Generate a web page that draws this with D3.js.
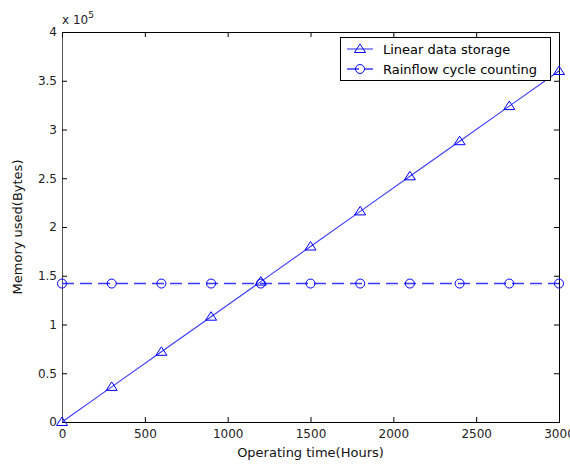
<!DOCTYPE html>
<html><head><meta charset="utf-8">
<script src="https://cdn.jsdelivr.net/npm/d3@7"></script>
<style>body{margin:0;background:#fff}svg{display:block}text{font-family:"DejaVu Sans",sans-serif}</style>
</head><body>
<script>
const hours = [0,300,600,900,1200,1500,1800,2100,2400,2700,3000];
const linearStorage = [0,0.36,0.72,1.08,1.44,1.80,2.16,2.52,2.88,3.24,3.60];
const rainflow = [1.42,1.42,1.42,1.42,1.42,1.42,1.42,1.42,1.42,1.42,1.42];
const xTicks = [0,500,1000,1500,2000,2500,3000];
const yTicks = [0,0.5,1,1.5,2,2.5,3,3.5,4];
const seriesNames = ["Linear data storage","Rainflow cycle counting"];

const W=570,H=465;
const svg=d3.select("body").append("svg").attr("width",W).attr("height",H);
const L=62,R=559,T=32,B=422;
const x=d3.scaleLinear().domain([0,3000]).range([L,R]);
const y=d3.scaleLinear().domain([0,4]).range([B,T]);
const blue="#3a3aff", mblue="#0000ff";
const FONT="DejaVu Sans, sans-serif";

const gx=svg.append("g").attr("transform",`translate(0,${B})`)
 .call(d3.axisBottom(x).tickValues(xTicks).tickSize(-5).tickPadding(7).tickFormat(d3.format("d")));
const gy=svg.append("g").attr("transform",`translate(${L},0)`)
 .call(d3.axisLeft(y).tickValues(yTicks).tickSize(-5).tickPadding(5).tickFormat(d=>String(d)));
const gxt=svg.append("g").attr("transform",`translate(0,${T})`)
 .call(d3.axisTop(x).tickValues(xTicks).tickSize(-5).tickFormat(""));
const gyr=svg.append("g").attr("transform",`translate(${R},0)`)
 .call(d3.axisRight(y).tickValues(yTicks).tickSize(-5).tickFormat(""));
[gx,gy,gxt,gyr].forEach(g=>{
 g.select(".domain").attr("stroke","#000").attr("stroke-width",1);
 g.selectAll(".tick line").attr("stroke","#000");
 g.selectAll("text").attr("font-size",12).attr("fill","#222").attr("font-family",FONT);
});
gy.select(".domain").attr("stroke","#555");

const line=d3.line().x((d,i)=>x(hours[i])).y(d=>y(d));
svg.append("path").datum(linearStorage).attr("d",line).attr("fill","none").attr("stroke",blue).attr("stroke-width",1.1);
svg.append("path").datum(rainflow).attr("d",line).attr("fill","none").attr("stroke",blue).attr("stroke-width",1.6).attr("stroke-dasharray","12,6");

function tri(g,cx,cy){g.append("path").attr("d",`M${cx},${cy-5}L${cx+5.5},${cy+3.5}L${cx-5.5},${cy+3.5}Z`).attr("fill","none").attr("stroke",mblue).attr("stroke-width",1);}
function circ(g,cx,cy){g.append("circle").attr("cx",cx).attr("cy",cy).attr("r",4.5).attr("fill","none").attr("stroke",mblue).attr("stroke-width",1);}
linearStorage.forEach((v,i)=>tri(svg,x(hours[i]),y(v)));
rainflow.forEach((v,i)=>circ(svg,x(hours[i]),y(v)));

const lg=svg.append("g");
lg.append("rect").attr("x",340.5).attr("y",37.5).attr("width",210).attr("height",43).attr("fill","#fff").attr("stroke","#000");
[0,1].forEach(i=>{
 const yy=49+i*20;
 lg.append("line").attr("x1",347).attr("x2",373).attr("y1",yy).attr("y2",yy).attr("stroke",blue).attr("stroke-width",i?1.6:1.1).attr("stroke-dasharray",i?"12,6":null);
 if(i===0) tri(lg,360,yy); else circ(lg,360,yy);
 lg.append("text").attr("x",383).attr("y",yy+5).attr("font-size",13).attr("fill","#000").text(seriesNames[i]);
});

svg.append("text").attr("x",(L+R)/2).attr("y",457).attr("text-anchor","middle").attr("font-size",13).attr("fill","#111").text("Operating time(Hours)");
svg.append("text").attr("transform",`translate(22,${(T+B)/2}) rotate(-90)`).attr("text-anchor","middle").attr("font-size",13).attr("fill","#111").text("Memory used(Bytes)");
const ex=svg.append("text").attr("x",62).attr("y",24).attr("font-size",12).attr("fill","#222");
ex.append("tspan").text("x 10");
ex.append("tspan").attr("dy",-6).attr("font-size",9).text("5");
</script>
</body></html>
